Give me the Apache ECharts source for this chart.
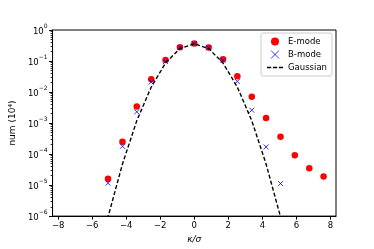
<!DOCTYPE html>
<html><head><meta charset="utf-8">
<script src="https://cdn.jsdelivr.net/npm/echarts@6/dist/echarts.min.js"></script>
<style>html,body{margin:0;padding:0;background:#fff}#c{width:374px;height:249px}</style>
</head><body><div id="c"></div>
<script>
// E-mode
const kappaE = [-5.07,-4.22,-3.38,-2.53,-1.69,-0.845,0,0.845,1.69,2.53,3.38,4.22,5.07,5.91,6.76,7.60];
const numE   = [1.6e-5,2.5e-4,3.4e-3,0.026,0.108,0.278,0.365,0.275,0.114,0.032,7.0e-3,1.45e-3,3.6e-4,9.1e-5,3.5e-5,1.9e-5];
// B-mode
const kappaB = [-5.07,-4.22,-3.38,-2.53,-1.69,-0.845,0,0.845,1.69,2.53,3.38,4.22,5.07];
const numB   = [1.15e-5,1.78e-4,2.3e-3,0.021,0.096,0.27,0.36,0.27,0.106,0.022,2.6e-3,1.7e-4,1.12e-5];
// Gaussian
const kappaG = [-5.91,-5.07,-4.22,-3.38,-2.53,-1.69,-0.845,0,0.845,1.69,2.53,3.38,4.22,5.07,5.91];
const numG   = [9.1e-9,9.4e-7,4.8e-5,1.19e-3,0.0145,0.086,0.252,0.36,0.252,0.086,0.0145,1.19e-3,4.8e-5,9.4e-7,9.1e-9];
// ticks
const xTicks = [-8,-6,-4,-2,0,2,4,6,8];
const yTicks = [1e-6,1e-5,1e-4,1e-3,1e-2,1e-1,1];

const yMinor = [];
for (let e = -6; e < 0; e++) for (let m = 2; m <= 9; m++) yMinor.push(m * Math.pow(10, e));

const pair = (xs, ys) => xs.map((x, i) => [x, ys[i]]);
const FONT = 'DejaVu Sans';
const xPath = 'path://M0,0L10,10M10,0L0,10';
const dashPath = 'path://M0,0h5v1.6h-5zM7,0h5v1.6h-5zM14,0h5v1.6h-5z';

const chart = echarts.init(document.getElementById('c'), null, {renderer: 'canvas'});
chart.setOption({
  animation: false,
  backgroundColor: '#fff',
  textStyle: {fontFamily: FONT},
  grid: {left: 47, right: 38, top: 30, bottom: 31.5, show: true, borderColor: '#000', borderWidth: 1, backgroundColor: 'transparent'},
  legend: {
    orient: 'vertical', left: 261, top: 33,
    padding: [4, 5, 4, 6], itemGap: 4, itemWidth: 16, itemHeight: 8,
    borderColor: '#cccccc', borderWidth: 1, borderRadius: 2, backgroundColor: '#fff',
    textStyle: {fontFamily: FONT, fontSize: 8.5, color: '#000'},
    data: [
      {name: 'E-mode', icon: 'circle', itemStyle: {color: '#ff0000'}},
      {name: 'B-mode', icon: xPath, itemStyle: {color: 'rgba(0,0,0,0)', borderColor: '#0000ff', borderWidth: 1}},
      {name: 'Gaussian', icon: dashPath, itemStyle: {color: '#000', borderWidth: 0}}
    ]
  },
  xAxis: {
    type: 'value', min: -8.33, max: 8.33,
    name: 'κ/σ', nameLocation: 'middle', nameGap: 16,
    nameTextStyle: {fontFamily: FONT, fontSize: 9, fontStyle: 'italic', color: '#000'},
    axisLine: {show: true, onZero: false, lineStyle: {color: '#000', width: 1}},
    axisTick: {show: true, inside: false, length: 3.5, customValues: xTicks, lineStyle: {color: '#000'}},
    axisLabel: {customValues: xTicks, fontFamily: FONT, fontSize: 8.5, color: '#000', margin: 5,
      formatter: v => (v < 0 ? '\u2212' + Math.abs(v) : String(v))},
    splitLine: {show: false}
  },
  yAxis: [{
    type: 'log', logBase: 10, min: 1e-6, max: 1,
    name: 'num (10\u2074)', nameLocation: 'middle', nameGap: 31,
    nameTextStyle: {fontFamily: FONT, fontSize: 9, color: '#000'},
    axisLine: {show: true, onZero: false, lineStyle: {color: '#000', width: 1}},
    axisTick: {show: true, inside: false, length: 3.5, customValues: yTicks, lineStyle: {color: '#000'}},
    axisLabel: {customValues: yTicks, margin: 5, fontFamily: FONT, color: '#000',
      formatter: v => {
        const e = Math.round(Math.log10(v));
        return '{b|10}{s|' + (e < 0 ? '\u2212' + Math.abs(e) : e) + '}';
      },
      rich: {
        b: {fontFamily: FONT, fontSize: 8.5, color: '#000', lineHeight: 13, verticalAlign: 'bottom'},
        s: {fontFamily: FONT, fontSize: 6, color: '#000', lineHeight: 13, verticalAlign: 'top'}
      }
    },
    splitLine: {show: false}
  }, {
    type: 'log', logBase: 10, min: 1e-6, max: 1, position: 'left',
    axisLine: {show: false, onZero: false},
    axisTick: {show: true, inside: false, length: 2, customValues: yMinor, lineStyle: {color: '#000', width: 0.8}},
    axisLabel: {show: false},
    splitLine: {show: false}
  }],
  series: [
    {name: 'E-mode', type: 'scatter', data: pair(kappaE, numE), symbol: 'circle', symbolSize: 6.5,
     itemStyle: {color: '#ff0000', opacity: 1}, z: 2},
    {name: 'B-mode', type: 'scatter', data: pair(kappaB, numB), symbol: xPath, symbolSize: 5,
     itemStyle: {color: 'rgba(0,0,0,0)', borderColor: '#0000ff', borderWidth: 1}, z: 3},
    {name: 'Gaussian', type: 'line', data: pair(kappaG, numG), symbol: 'none', showSymbol: false,
     lineStyle: {color: '#000', width: 1.4, type: [4, 2.2]}, itemStyle: {color: '#000'}, clip: true, z: 4}
  ]
});
</script></body></html>
